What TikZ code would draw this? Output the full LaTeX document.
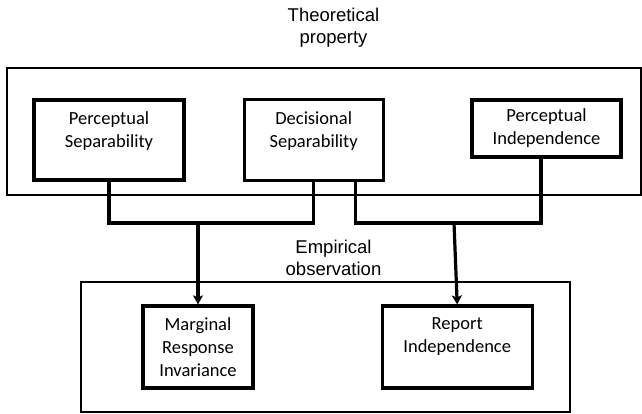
\documentclass[tikz,border=0pt]{standalone}
\usepackage{fontspec}
\setmainfont{Carlito}
\newfontfamily\headfont{Liberation Sans}
\usetikzlibrary{positioning,arrows.meta}

\begin{document}
\begin{tikzpicture}[x=1pt,y=1pt,>={Stealth[length=9pt,width=10pt,inset=2pt]},
	prop/.style={draw,line width=3.2pt,align=center,inner sep=0pt,
		font=\fontsize{18.5}{23}\selectfont},
	head/.style={align=center,inner sep=0pt,
		font=\headfont\fontsize{18.5}{22}\selectfont},
	frame/.style={draw,line width=1.8pt},
	link/.style={line width=3.2pt}]

\useasboundingbox (0,0) rectangle (642,-413);

% theoretical property
\node [head] (theo) at (333.5,-27.5) {Theoretical\\property};
\draw [frame] (7,-68) rectangle (641,-195);

\node [prop,minimum width=150pt,minimum height=80pt,text depth=20pt] (ps) at (109,-140) {Perceptual\\Separability};
\node [prop,minimum width=139pt,minimum height=81pt,text depth=20pt] (ds) [right=57pt of ps] {Decisional\\Separability};
\node [prop,minimum width=149pt,minimum height=57pt] (pi) at (546.5,-128.5) {Perceptual\\Independence};

% empirical observation
\node [head] (emp) at (333.5,-258) {Empirical\\observation};
\draw [frame] (81,-282) rectangle (570,-412);

\node [prop,minimum width=110pt,minimum height=82pt] (mri) at (198,-347) {Marginal\\Response\\Invariance};
\node [prop,minimum width=150pt,minimum height=82pt,text depth=24pt] (ri) [right=126pt of mri] {Report\\Independence};

\coordinate (jl) at (198,-223);
\coordinate (jr) at (454,-223);

\draw [link] (ps.south) |- (jl) -| (ds.south);
\draw [link] ([xshift=41.5pt]ds.south) |- (jr) -| ([xshift=-5.5pt]pi.south);
\draw [link,->] (jl) -- (mri.north);
\draw [link,->] (jr) -- (ri.north);

\end{tikzpicture}
\end{document}
